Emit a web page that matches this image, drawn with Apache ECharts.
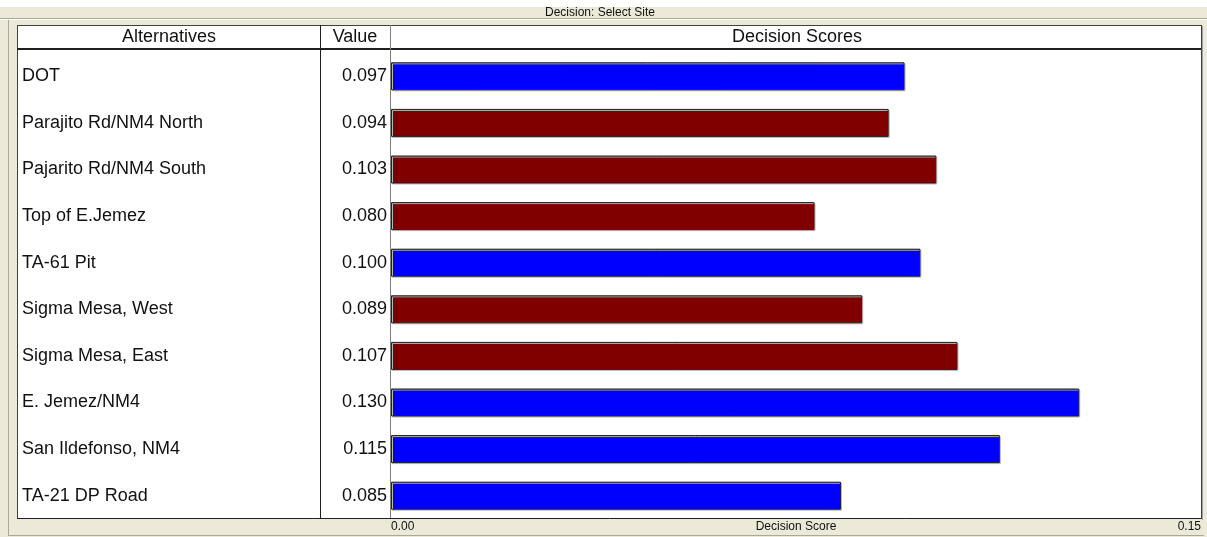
<!DOCTYPE html>
<html lang="en">
<head>
  <meta charset="UTF-8">
  <title>Decision: Select Site</title>
  <script src="https://cdn.jsdelivr.net/npm/echarts@6/dist/echarts.min.js"></script>
  <style>
    * { margin: 0; padding: 0; box-sizing: border-box; }
    body { background: #ece9d8; }
    #chart { width: 1207px; height: 537px; }
  </style>
</head>
<body>
<div id="chart"></div>
<script>
const alternatives = ['DOT', 'Parajito Rd/NM4 North', 'Pajarito Rd/NM4 South', 'Top of E.Jemez',
  'TA-61 Pit', 'Sigma Mesa, West', 'Sigma Mesa, East', 'E. Jemez/NM4', 'San Ildefonso, NM4', 'TA-21 DP Road'];
const scores = [0.097, 0.094, 0.103, 0.080, 0.100, 0.089, 0.107, 0.130, 0.115, 0.085];
// true = blue bar, false = dark red bar
const highlighted = [true, false, false, false, true, false, false, true, true, true];
const axisMin = 0, axisMax = 0.153;

const FONT = '"Liberation Sans", Arial, sans-serif';
const line = (x1, y1, x2, y2, color, w) => ({
  type: 'line', z: 10, silent: true,
  shape: { x1, y1, x2, y2 },
  style: { stroke: color, lineWidth: w || 1 }
});
const txt = (x, y, text, size, align) => ({
  type: 'text', z: 11, silent: true, x, y,
  style: { text, fontSize: size, fontFamily: FONT, fill: '#111', align: align || 'center', verticalAlign: 'middle' }
});

const chart = echarts.init(document.getElementById('chart'));
chart.setOption({
  backgroundColor: '#ece9d8',
  animation: false,
  grid: { left: 391, right: 6, top: 53, height: 466, outerBoundsMode: 'none', containLabel: false },
  xAxis: {
    type: 'value', min: axisMin, max: axisMax, interval: axisMax,
    name: 'Decision Score', nameLocation: 'middle', nameGap: 2, nameMoveOverlap: false,
    nameTextStyle: { fontSize: 12, fontFamily: FONT, color: '#111', verticalAlign: 'top' },
    axisLine: { show: false }, axisTick: { show: false }, splitLine: { show: false },
    axisLabel: {
      margin: 2, fontSize: 12, fontFamily: FONT, color: '#111',
      alignMinLabel: 'left', alignMaxLabel: 'right',
      formatter: v => v.toFixed(2)
    }
  },
  yAxis: [{
    type: 'category', data: alternatives, inverse: true,
    axisLine: { show: false }, axisTick: { show: false },
    axisLabel: { align: 'left', margin: 369, fontSize: 18, fontFamily: FONT, color: '#111' }
  }, {
    type: 'category', data: scores.map(v => v.toFixed(3)), inverse: true, position: 'left',
    axisLine: { show: false }, axisTick: { show: false },
    axisLabel: { align: 'right', margin: 4, fontSize: 18, fontFamily: FONT, color: '#111' }
  }],
  series: [{
    type: 'bar', barWidth: 28, z: 3,
    data: scores.map((v, i) => ({
      value: v,
      itemStyle: { color: highlighted[i] ? '#0000ff' : '#800000' }
    })),
    itemStyle: {
      borderColor: '#222', borderWidth: 1,
      shadowColor: '#b8b8b8', shadowOffsetX: 1, shadowOffsetY: 1, shadowBlur: 0
    }
  }],
  graphic: [
    { type: 'rect', z: 0, silent: true, shape: { x: 0, y: 0, width: 1207, height: 7 }, style: { fill: '#ffffff' } },
    { type: 'rect', z: 0, silent: true, shape: { x: 17, y: 25, width: 1184, height: 493 }, style: { fill: '#ffffff' } },
    line(0, 18.5, 1207, 18.5, '#aca899'),
    line(0, 19.5, 1207, 19.5, '#ffffff'),
    line(8.5, 20, 8.5, 535, '#aca899'),
    line(8, 535.5, 1204, 535.5, '#aca899'),
    line(17, 25.5, 1201, 25.5, '#404040'),
    line(17.5, 25, 17.5, 518, '#404040'),
    line(17, 518.5, 1202, 518.5, '#202020'),
    line(1201.5, 25, 1201.5, 519, '#404040'),
    line(1202.5, 26, 1202.5, 520, '#a0a0a0'),
    line(17, 49, 1201, 49, '#202020', 2),
    line(320.5, 25, 320.5, 518, '#202020'),
    line(390.5, 25, 390.5, 518, '#808080'),
    txt(600, 12.5, 'Decision: Select Site', 12),
    txt(169, 37.5, 'Alternatives', 18),
    txt(355, 37.5, 'Value', 18),
    txt(797, 37.5, 'Decision Scores', 18)
  ]
});
</script>
</body>
</html>
